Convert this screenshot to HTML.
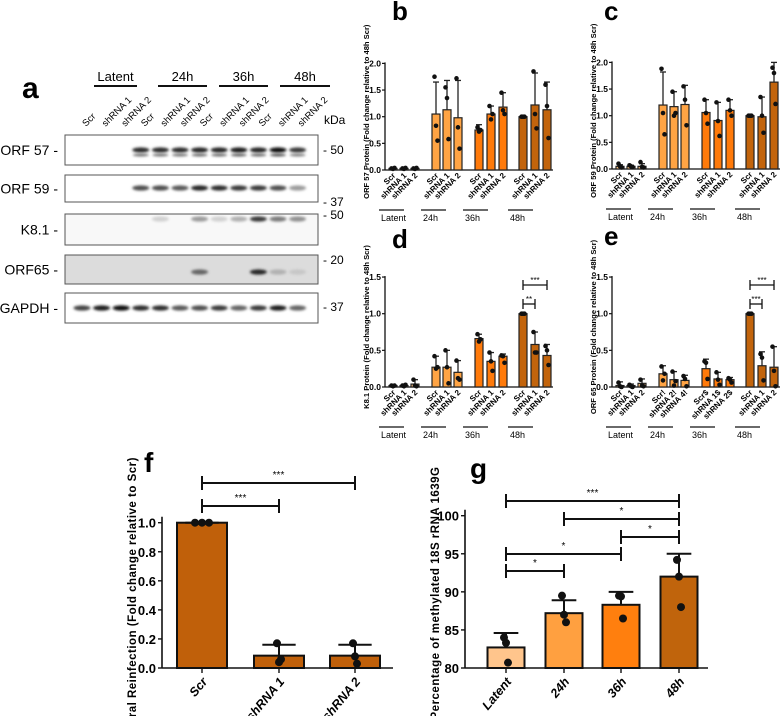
<!DOCTYPE html>
<html><head><meta charset="utf-8"><style>
body{margin:0;background:#fff;}
svg{display:block;font-family:"Liberation Sans",sans-serif;}
</style></head><body>
<svg id="fig" width="780" height="716" viewBox="0 0 780 716" xmlns="http://www.w3.org/2000/svg">
<defs>
<filter id="blur1" x="-50%" y="-100%" width="200%" height="300%"><feGaussianBlur stdDeviation="1.3"/></filter>
</defs>
<g id="panelA"></g>
<g id="charts"></g>
</svg>
<script>
// ---------- data ----------
const groupNames = ["Latent","24h","36h","48h"];
const barLabels = ["Scr","shRNA 1","shRNA 2","Scr","shRNA 1","shRNA 2","Scr","shRNA 1","shRNA 2","Scr","shRNA 1","shRNA 2"];
const eLabels = ["Scr","shRNA 1","shRNA 2","Scr!","shRNA 2!","shRNA 4!","Scr$","shRNA 1$","shRNA 2$","Scr","shRNA 1","shRNA 2"];
const groupColors = ["#ffc27c","#ffa444","#ff7a0a","#c2640c"];

const bMeans = [0.03,0.03,0.03, 1.05,1.13,0.98, 0.75,1.05,1.18, 1.0,1.22,1.13];
const bErr   = [0.04,0.04,0.04, 1.65,1.68,1.68, 0.85,1.2,1.45, 1.0,1.82,1.65];
const bPts   = [[0.03,0.02,0.04],[0.03,0.02,0.04],[0.03,0.02,0.04],[1.75,0.83,0.55],[1.55,1.35,0.58],[1.72,0.8,0.4],[0.8,0.72,0.75],[1.2,0.95,1.05],[1.45,1.12,1.05],[1,1,1],[1.85,1.05,0.78],[1.6,1.2,0.6]];

const cMeans = [0.05,0.05,0.05, 1.2,1.17,1.21, 1.06,0.91,1.1, 1.0,0.98,1.63];
const cErr   = [0.08,0.07,0.1, 1.82,1.45,1.57, 1.3,1.25,1.3, 1.0,1.35,2.0];
const cPts   = [[0.1,0.05,0.03],[0.07,0.05,0.04],[0.13,0.04,0.03],[1.88,1.05,0.65],[1.45,1.0,1.05],[1.55,1.3,0.82],[1.3,1.05,0.85],[1.25,0.9,0.62],[1.3,1.1,1.0],[1,1,1],[1.35,1.0,0.68],[1.9,1.8,1.22]];

const dMeans = [0.02,0.02,0.04, 0.27,0.27,0.2, 0.66,0.35,0.42, 1.0,0.58,0.43];
const dErr   = [0.03,0.03,0.1, 0.42,0.5,0.36, 0.72,0.47,0.45, 1.0,0.75,0.58];
const dPts   = [[0.02,0.01,0.02],[0.02,0.01,0.03],[0.1,0.02,0.01],[0.42,0.25,0.27],[0.5,0.27,0.05],[0.36,0.12,0.1],[0.72,0.62,0.65],[0.47,0.35,0.22],[0.43,0.42,0.33],[1,1,1],[0.75,0.47,0.47],[0.56,0.5,0.3]];

const eMeans = [0.02,0.02,0.05, 0.18,0.1,0.09, 0.25,0.11,0.1, 1.0,0.29,0.27];
const eErr   = [0.07,0.04,0.11, 0.29,0.21,0.16, 0.38,0.2,0.13, 1.0,0.48,0.55];
const ePts   = [[0.06,0.01,0.0],[0.03,0.01,0.0],[0.1,0.02,0.01],[0.28,0.09,0.18],[0.21,0.02,0.08],[0.15,0.11,0.01],[0.35,0.33,0.11],[0.2,0.1,0.03],[0.12,0.1,0.06],[1,1,1],[0.45,0.4,0.09],[0.55,0.22,0.01]];

const fCats = ["Scr","shRNA 1","shRNA 2"];
const fMeans = [1.0,0.085,0.085];
const fErr = [1.0,0.16,0.16];
const fPts = [[1,1,1],[0.17,0.04,0.06],[0.17,0.08,0.03]];
const fTicks = [0,0.2,0.4,0.6,0.8,1.0];

const gCats = ["Latent","24h","36h","48h"];
const gMeans = [82.7,87.2,88.3,92.0];
const gErr = [84.6,88.9,90.0,95.0];
const gPts = [[84.0,83.3,80.7],[89.5,87.0,86.0],[89.5,89.4,86.5],[94.2,92.0,88.0]];
const gTicks = [80,85,90,95,100];

const NS="http://www.w3.org/2000/svg";
const charts=document.getElementById('charts');
function el(tag,attrs,parent,text){const e=document.createElementNS(NS,tag);for(const k in attrs)e.setAttribute(k,attrs[k]);if(text!==undefined)e.textContent=text;(parent||charts).appendChild(e);return e;}

// ---------- small grouped panels ----------
const offs=[8,19,30,51,62,73,94,106,118,138,150,162];
const lineOffs=[-6,36,78,123];
function smallPanel(name,ax,y0,scale,ticks,yMax,means,errs,pts,labels,title,letter,lx,ly,sig){
  const g=el('g',{});
  
  
  const Y=v=>y0-v*scale;
  const t=el('text',{x:lx,y:ly,'font-size':26,'font-weight':'bold'},g,letter);
  
  
  // axes
  const ya=el('line',{x1:ax,y1:Y(yMax)-1,x2:ax,y2:y0,stroke:'#111','stroke-width':1.3},g);
  
  
  const xa=el('line',{x1:ax,y1:y0,x2:ax+168,y2:y0,stroke:'#111','stroke-width':1.3},g);
  
  
  ticks.forEach(v=>{
    el('line',{x1:ax-3,y1:Y(v),x2:ax,y2:Y(v),stroke:'#111','stroke-width':1.2},g);
    const tt=el('text',{x:ax-4,y:Y(v)+3,'font-size':8.5,'font-weight':'bold','text-anchor':'end'},g,v.toFixed(1));
    
    
  });
  const yt=el('text',{transform:`translate(${ax-16},${(Y(yMax)+y0)/2-5}) rotate(-90)`,'font-size':7.6,'font-weight':'bold','text-anchor':'middle'},g,title);
  
  
  means.forEach((m,i)=>{
    const cx=ax+offs[i];const col=groupColors[Math.floor(i/3)];
    const r=el('rect',{x:cx-4,y:Y(m),width:8,height:Math.max(0.5,m*scale),fill:col,stroke:'#222','stroke-width':1.2},g);
    
    
    el('line',{x1:cx,y1:Y(m),x2:cx,y2:Y(errs[i]),stroke:'#222','stroke-width':1.3},g);
    el('line',{x1:cx-3,y1:Y(errs[i]),x2:cx+3,y2:Y(errs[i]),stroke:'#222','stroke-width':1.3},g);
    pts[i].forEach((p,j)=>{const c=el('circle',{cx:cx+(j-1)*1.5,cy:Y(p),r:2.3,fill:'#111'},g);
      
      });
    const lb=el('text',{transform:`translate(${cx+3},${y0+6}) rotate(-45)`,'font-size':8,'font-weight':'bold','text-anchor':'end'},g,labels[i]);
    
    
  });
  groupNames.forEach((gn,k)=>{
    el('line',{x1:ax+lineOffs[k],y1:y0+40,x2:ax+lineOffs[k]+25,y2:y0+40,stroke:'#111','stroke-width':1.2},g);
    const gt=el('text',{x:ax+lineOffs[k]+2,y:y0+51,'font-size':9},g,gn);
    
    
  });
  if(sig){sig.forEach(s=>{
    const x1=ax+offs[s[0]],x2=ax+offs[s[1]];
    el('line',{x1:x1,y1:s[2],x2:x2,y2:s[2],stroke:'#111','stroke-width':1.3},g);
    el('line',{x1:x1,y1:s[2]-5,x2:x1,y2:s[2]+5,stroke:'#111','stroke-width':1.3},g);
    el('line',{x1:x2,y1:s[2]-5,x2:x2,y2:s[2]+5,stroke:'#111','stroke-width':1.3},g);
    const st=el('text',{x:(x1+x2)/2,y:s[2]-2,'font-size':8,'text-anchor':'middle'},g,s[3]);
    
    
  });}
}
smallPanel('chart-b-orf57',385,170,53.3,[0,0.5,1,1.5,2],2,bMeans,bErr,bPts,barLabels,'ORF 57 Protein (Fold change relative to 48h Scr)','b',392,20);
smallPanel('chart-c-orf59',612,169,53.3,[0,0.5,1,1.5,2],2,cMeans,cErr,cPts,barLabels,'ORF 59 Protein (Fold change relative to 48h Scr)','c',604,20);
smallPanel('chart-d-k81',385,387,73.3,[0,0.5,1,1.5],1.5,dMeans,dErr,dPts,barLabels,'K8.1 Protein (Fold change relative to 48h Scr)','d',392,248,[[9,11,285,'***'],[9,10,304,'**']]);
smallPanel('chart-e-orf65',612,387,73.3,[0,0.5,1,1.5],1.5,eMeans,eErr,ePts,eLabels,'ORF 65 Protein (Fold change relative to 48h Scr)','e',604,245,[[9,11,285,'***'],[9,10,304,'***']]);

// ---------- big panels ----------
function bigPanel(name,ax,axEnd,y0,yTop,vmin,vmax,ticks,dec,cats,centers,bw,means,errs,pts,colors,title,letter,lx,ly,sig){
  const g=el('g',{});
  
  
  const Y=v=>y0-(v-vmin)/(vmax-vmin)*(y0-yTop);
  const t=el('text',{x:lx,y:ly,'font-size':28,'font-weight':'bold'},g,letter);
  
  
  const ya=el('line',{x1:ax,y1:yTop-6,x2:ax,y2:y0,stroke:'#111','stroke-width':1.6},g);
  
  
  const xa=el('line',{x1:ax,y1:y0,x2:axEnd,y2:y0,stroke:'#111','stroke-width':1.6},g);
  
  
  ticks.forEach(v=>{
    el('line',{x1:ax-4,y1:Y(v),x2:ax,y2:Y(v),stroke:'#111','stroke-width':1.4},g);
    const tt=el('text',{x:ax-6,y:Y(v)+5,'font-size':13,'font-weight':'bold','text-anchor':'end',transform:`scale(1,1)`},g,v.toFixed(dec));
    
    
  });
  const yt=el('text',{transform:`translate(${ax-26},${y0-75}) rotate(-90)`,'font-size':11.5,'font-weight':'bold','text-anchor':'middle','letter-spacing':'0.5'},g,title);
  
  
  cats.forEach((c,i)=>{
    const cx=centers[i];
    el('line',{x1:cx,y1:y0,x2:cx,y2:y0+5,stroke:'#111','stroke-width':1.4},g);
    const r=el('rect',{x:cx-bw/2,y:Y(means[i]),width:bw,height:y0-Y(means[i]),fill:colors[i],stroke:'#111','stroke-width':2},g);
    
    
    el('line',{x1:cx,y1:Y(means[i]),x2:cx,y2:Y(errs[i]),stroke:'#111','stroke-width':2},g);
    el('line',{x1:cx-bw/3,y1:Y(errs[i]),x2:cx+bw/3,y2:Y(errs[i]),stroke:'#111','stroke-width':2},g);
    pts[i].forEach((p,j)=>{const cc=el('circle',{cx:cx+(j-1)*(means[i]===p&&pts[i].every(q=>q===p)?7:2),cy:Y(p),r:4,fill:'#111'},g);
      
      });
    const lb=el('text',{transform:`translate(${cx+6},${y0+14}) rotate(-50)`,'font-size':12.5,'font-weight':'bold','font-style':'italic','text-anchor':'end'},g,c);
    
    
  });
  sig.forEach(s=>{
    const x1=centers[s[0]],x2=centers[s[1]];
    el('line',{x1:x1,y1:s[2],x2:x2,y2:s[2],stroke:'#111','stroke-width':2},g);
    el('line',{x1:x1,y1:s[2]-7,x2:x1,y2:s[2]+7,stroke:'#111','stroke-width':2},g);
    el('line',{x1:x2,y1:s[2]-7,x2:x2,y2:s[2]+7,stroke:'#111','stroke-width':2},g);
    const st=el('text',{x:(x1+x2)/2,y:s[2]-5,'font-size':10,'text-anchor':'middle'},g,s[3]);
    
    
  });
}
bigPanel('chart-f-viral-reinfection',162,393,668,522.7,0,1,fTicks,1,fCats,[202,279,355],50,fMeans,fErr,fPts,['#c0600a','#c0600a','#c0600a'],'Viral Reinfection (Fold change relative to Scr)','f',144,472,[[0,2,483,'***'],[0,1,506,'***']]);
bigPanel('chart-g-methylation',465,708,668,515.7,80,100,gTicks,0,gCats,[506,564,621,679],37,gMeans,gErr,gPts,['#ffc58c','#ffa040','#ff7f0e','#c0640c'],'Percentage of methylated 18S rRNA 1639G','g',470,478,[[0,3,501,'***'],[1,3,519,'*'],[2,3,537,'*'],[0,2,554,'*'],[0,1,571,'*']]);

// ---------- western blot ----------
const A=document.getElementById('panelA');
const laneNames=["Scr","shRNA 1","shRNA 2","Scr","shRNA 1","shRNA 2","Scr","shRNA 1","shRNA 2","Scr","shRNA 1","shRNA 2"];
const blotNames=["ORF 57 -","ORF 59 -","K8.1 -","ORF65 -","GAPDH -"];
const blotBoxes=[[135,165,'#fff'],[175,202,'#fff'],[214,245,'#f8f8f8'],[255,284,'#dcdcdc'],[293,323,'#fff']];
const bandY=[150,188,219,272,308];
const bandInt=[
 [0,0,0,0.85,0.85,0.85,0.9,0.9,0.95,0.9,1,0.8],
 [0,0,0,0.7,0.7,0.65,0.9,0.85,0.8,0.8,0.7,0.35],
 [0,0,0,0,0.1,0,0.35,0.1,0.25,0.8,0.5,0.4],
 [0,0,0,0,0,0,0.6,0,0,0.9,0.25,0.15],
 [0.75,0.95,1,0.85,0.85,0.65,0.7,0.8,0.6,0.8,0.95,0.6]];
const kda=[["- 50",154],["- 37",206],["- 50",219],["- 20",264],["- 37",311]];
function ae(tag,attrs,text){return el(tag,attrs,A,text);}
const la=ae('text',{x:22,y:98,'font-size':30,'font-weight':'bold'},'a');


const laneX=i=>82+i*19.6;
[["Latent",94,137],["24h",158,207],["36h",219,268],["48h",280,330]].forEach(h=>{
  const t=ae('text',{x:(h[1]+h[2])/2,y:81,'font-size':13,'text-anchor':'middle'},h[0]);
  
  
  ae('line',{x1:h[1],y1:86,x2:h[2],y2:86,stroke:'#111','stroke-width':2});
});
laneNames.forEach((n,i)=>{
  const t=ae('text',{transform:`translate(${laneX(i)+4},${127}) rotate(-45)`,'font-size':9.5},n);
  
  
});
const kt=ae('text',{x:324,y:124,'font-size':12},'kDa');


blotBoxes.forEach((b,k)=>{
  const r=ae('rect',{x:65,y:b[0],width:253,height:b[1]-b[0],fill:b[2],stroke:'#555','stroke-width':1});
  
  
  const t=ae('text',{x:58,y:(b[0]+b[1])/2+5,'font-size':14,'text-anchor':'end'},blotNames[k]);
  
  
  bandInt[k].forEach((v,i)=>{if(v>0){
    const c=Math.round(230-v*215);
    ae('ellipse',{cx:laneX(i),cy:bandY[k],rx:8.5,ry:2.6,fill:`rgb(${c},${c},${c})`,filter:'url(#blur1)'});
    if(k===0) ae('ellipse',{cx:laneX(i),cy:bandY[k]+5,rx:8,ry:1.5,fill:`rgb(${c+70},${c+70},${c+70})`,filter:'url(#blur1)'});
  }});
});
kda.forEach(k=>{const t=ae('text',{x:323,y:k[1],'font-size':12},k[0]);
  
  });
</script>
</body></html>
